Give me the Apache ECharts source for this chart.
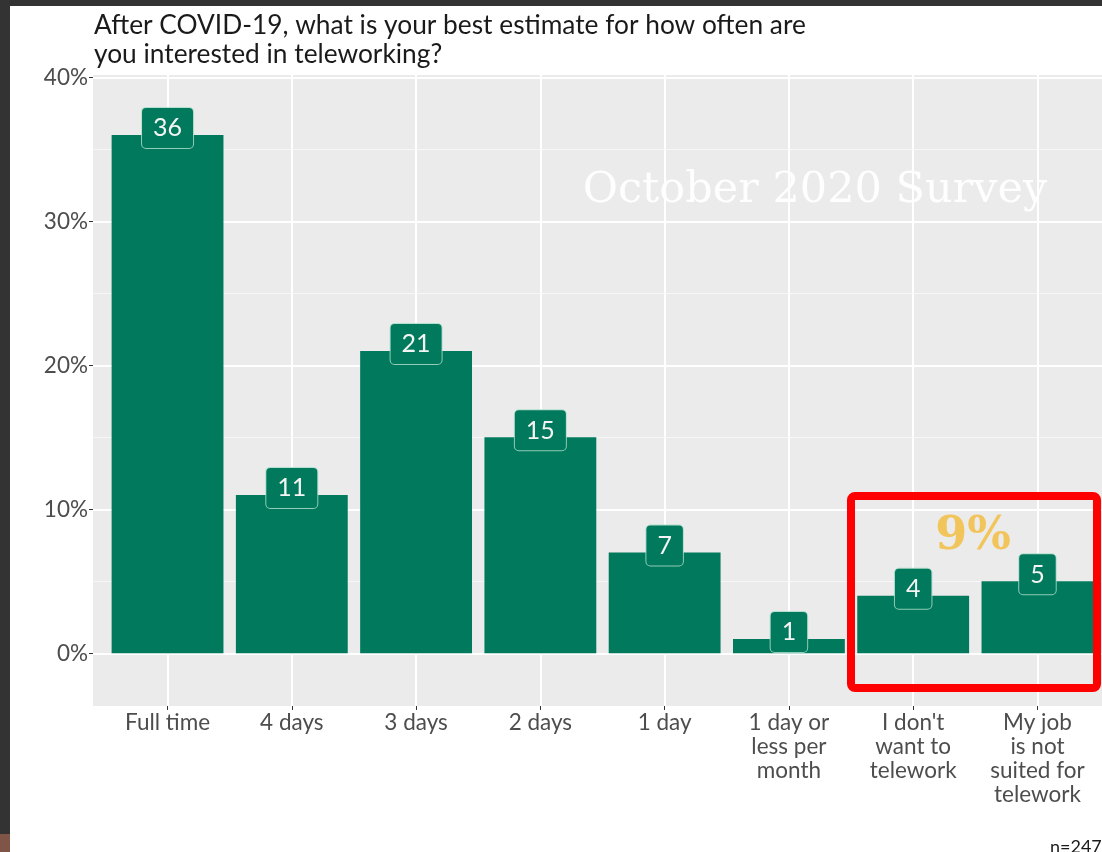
<!DOCTYPE html>
<html>
<head>
<meta charset="utf-8">
<script src="https://cdn.jsdelivr.net/npm/echarts@6/dist/echarts.min.js"></script>
<style>
  html, body { margin: 0; padding: 0; background: #ffffff; }
  #chart { width: 1102px; height: 852px; }
</style>
</head>
<body>
<div id="chart"></div>
<script>
// Survey answers (share of respondents, %)
const categories = [
  'Full time',
  '4 days',
  '3 days',
  '2 days',
  '1 day',
  '1 day or\nless per\nmonth',
  "I don't\nwant to\ntelework",
  'My job\nis not\nsuited for\ntelework'
];
const shares = [36, 11, 21, 15, 7, 1, 4, 5];
const yTicks = [0, 10, 20, 30, 40];
const yMinorTicks = [5, 15, 25, 35];
const highlighted = [6, 7]; // the two "no telework" answers
const sampleSize = 2474;

const titleText = 'After COVID-19, what is your best estimate for how often are\nyou interested in teleworking?';
const watermark = 'October 2020 Survey';

const Y_MIN = -3.66, Y_MAX = 40.16;
const GREEN = '#00795C';
const FONT = 'Lato, "Noto Sans", sans-serif';

const chart = echarts.init(document.getElementById('chart'), null, { renderer: 'canvas' });

const highlightedTotal = highlighted.reduce((s, i) => s + shares[i], 0);

const option = {
  animation: false,
  backgroundColor: '#ffffff',
  grid: [
    // bar area (category bands), inset by the panel's side padding
    { left: 105.4, right: 2.4, top: 75, bottom: 146, containLabel: false },
    // full plotting panel
    { left: 93, right: -10, top: 75, bottom: 146, containLabel: false,
      show: true, backgroundColor: '#EBEBEB', borderWidth: 0 }
  ],
  xAxis: [
    {
      type: 'category', gridIndex: 0, data: categories,
      axisLine: { show: false, onZero: false },
      axisTick: { show: true, alignWithLabel: true, length: 4, lineStyle: { color: '#333333', width: 1 } },
      axisLabel: { color: '#4D4D4D', fontFamily: FONT, fontSize: 22.5, lineHeight: 24, margin: 5, interval: 0 },
      splitLine: { show: false }
    },
    { type: 'value', gridIndex: 1, min: 0, max: 1, show: false }
  ],
  yAxis: [
    { type: 'value', gridIndex: 0, min: Y_MIN, max: Y_MAX, show: false, splitLine: { show: false } },
    {
      type: 'value', gridIndex: 1, min: Y_MIN, max: Y_MAX,
      axisLine: { show: false, onZero: false },
      axisTick: { show: true, customValues: yTicks, length: 4, lineStyle: { color: '#333333', width: 1 } },
      axisLabel: { customValues: yTicks, formatter: '{value}%', color: '#4D4D4D', fontFamily: FONT, fontSize: 22.5, margin: 5 },
      splitLine: { show: false },
      minorSplitLine: { show: false }
    }
  ],
  series: [
    {
      // horizontal panel gridlines
      type: 'line', xAxisIndex: 1, yAxisIndex: 1, data: [], silent: true, z: 1,
      markLine: {
        silent: true, symbol: 'none', z: 1, animation: false,
        label: { show: false },
        emphasis: { disabled: true },
        data: [
          ...yMinorTicks.map(v => ({ yAxis: v, lineStyle: { color: '#F7F7F7', width: 1, type: 'solid' } })),
          ...yTicks.map(v => ({ yAxis: v, lineStyle: { color: '#FFFFFF', width: 2, type: 'solid' } }))
        ]
      }
    },
    {
      // vertical gridlines at category centres
      type: 'line', xAxisIndex: 0, yAxisIndex: 0, data: [], silent: true, z: 1,
      markLine: {
        silent: true, symbol: 'none', z: 1, animation: false,
        label: { show: false },
        emphasis: { disabled: true },
        lineStyle: { color: '#FFFFFF', width: 2, type: 'solid' },
        data: categories.map(c => ({ xAxis: c }))
      }
    },
    {
      type: 'bar', xAxisIndex: 0, yAxisIndex: 0, z: 3,
      data: shares,
      barCategoryGap: '10%',
      itemStyle: { color: GREEN },
      label: {
        show: true, position: 'top', distance: -13,
        formatter: '{c}',
        color: '#F4F4F4', fontFamily: FONT, fontSize: 25, lineHeight: 27,
        backgroundColor: GREEN,
        borderColor: 'rgba(170,220,200,0.85)', borderWidth: 1, borderRadius: 4,
        padding: [7, 11, 6, 11]
      },
      emphasis: { disabled: true }
    }
  ],
  graphic: [
    // frame strips
    { type: 'rect', left: 0, top: 0, shape: { width: 1102, height: 6 }, style: { fill: '#333333' }, z: 100 },
    { type: 'rect', left: 0, top: 0, shape: { width: 10, height: 852 }, style: { fill: '#333333' }, z: 100 },
    { type: 'rect', left: 0, top: 834, shape: { width: 10, height: 18 }, style: { fill: '#7E5546' }, z: 101 },
    {
      type: 'text', left: 94, top: 11, z: 50,
      style: { text: titleText, fill: '#1A1A1A', font: '26.3px ' + FONT, lineHeight: 29 }
    },
    {
      type: 'text', x: 815, y: 191, z: 50,
      style: { text: watermark, fill: 'rgba(255,255,255,0.92)', font: '43px "DejaVu Serif", serif',
               align: 'center', verticalAlign: 'middle' }
    },
    {
      type: 'text', x: 973, y: 537, z: 50,
      style: { text: highlightedTotal + '%', fill: '#F2C55C', font: 'bold 46px "DejaVu Serif", serif',
               align: 'center', verticalAlign: 'middle' }
    },
    {
      type: 'rect', z: 60,
      shape: { x: 851, y: 496, width: 246, height: 192, r: 4 },
      style: { fill: 'none', stroke: '#FF0000', lineWidth: 8 }
    },
    {
      type: 'text', x: 1050, y: 847, z: 50,
      style: { text: 'n=' + sampleSize, fill: '#1A1A1A', font: '18px ' + FONT, verticalAlign: 'middle' }
    }
  ]
};

chart.setOption(option);
</script>
</body>
</html>
